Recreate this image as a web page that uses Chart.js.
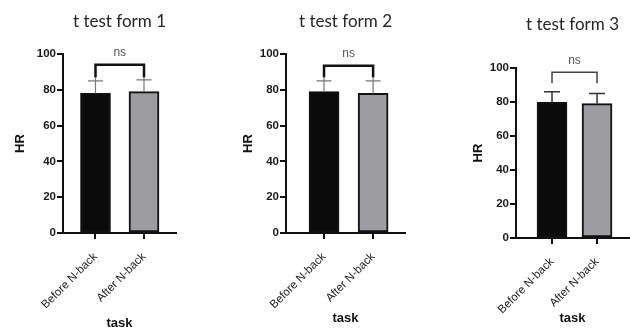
<!DOCTYPE html>
<html><head><meta charset="utf-8">
<script src="https://cdn.jsdelivr.net/npm/chart.js@4.4.0/dist/chart.umd.min.js"></script>
<style>
html,body{margin:0;padding:0;background:#fff;width:630px;height:333px;overflow:hidden;position:relative}
canvas{position:absolute;top:0}
</style></head><body>
<canvas id="c1" width="210" height="333" style="left:0px"></canvas>
<canvas id="c2" width="200" height="333" style="left:228px"></canvas>
<canvas id="c3" width="172" height="333" style="left:458px"></canvas>
<script>
// ---- data ----
const categories = ['Before N-back', 'After N-back'];
const titles = ['t test form 1', 't test form 2', 't test form 3'];
const form1Mean = [78, 79];
const form1SD = [7, 6.5];
const form2Mean = [79, 78];
const form2SD = [6, 7];
const form3Mean = [80, 79];
const form3SD = [6, 6];
const yTicks = [0, 20, 40, 60, 80, 100];
const sigLabel = 'ns';
const bracketLevel = [94, 93.5, 97.5];
const bracketLegEnd = [87, 87, 91];
const yTitle = 'HR';
const xTitle = 'task';

const SANS = '"Liberation Sans", Arial, Helvetica, sans-serif';

const annot = {
  id: 'annot',
  afterDatasetsDraw(chart, args, o) {
    const {ctx, scales: {y}} = chart;
    const meta = chart.getDatasetMeta(0);
    ctx.save();
    ctx.strokeStyle = o.errColor; ctx.lineWidth = o.errWidth;
    meta.data.forEach((bar, i) => {
      const top = y.getPixelForValue(o.mean[i] + o.sd[i]);
      ctx.beginPath();
      ctx.moveTo(bar.x, bar.y); ctx.lineTo(bar.x, top - o.errExt);
      ctx.moveTo(bar.x - o.cap, top); ctx.lineTo(bar.x + o.cap, top);
      ctx.stroke();
    });
    const x0 = meta.data[0].x, x1 = meta.data[1].x;
    const yb = y.getPixelForValue(o.level), yl = y.getPixelForValue(o.legEnd);
    ctx.strokeStyle = o.brColor; ctx.lineWidth = o.brWidth;
    ctx.lineJoin = 'miter';
    ctx.beginPath();
    ctx.moveTo(x0, yl); ctx.lineTo(x0, yb); ctx.lineTo(x1, yb); ctx.lineTo(x1, yl);
    ctx.stroke();
    ctx.fillStyle = '#555';
    ctx.font = '12px ' + SANS;
    ctx.textAlign = 'center'; ctx.textBaseline = 'alphabetic';
    ctx.fillText(sigLabel, (x0 + x1) / 2, yb - o.nsGap);
    ctx.restore();
  }
};

function makeChart(id, mean, sd, idx, L) {
  return new Chart(document.getElementById(id), {
    type: 'bar',
    data: {
      datasets: [{
        data: categories.map((c, i) => ({x: i, y: mean[i]})),
        backgroundColor: ['#0b0b0b', '#9d9da1'],
        borderColor: '#111',
        borderWidth: 2,
        borderSkipped: false,
        barThickness: 30
      }]
    },
    options: {
      responsive: false,
      animation: false,
      layout: {padding: {left: 0, right: L.padRight, top: 0, bottom: 0}},
      plugins: {
        legend: {display: false},
        tooltip: {enabled: false},
        title: {
          display: true, text: titles[idx], fullSize: false,
          color: '#262626',
          font: {family: 'Lato, "Open Sans", sans-serif', size: 17, weight: 'normal'},
          padding: L.titlePad
        },
        annot: {
          mean: mean, sd: sd, level: bracketLevel[idx], legEnd: bracketLegEnd[idx],
          errColor: L.errColor, errWidth: L.errWidth, errExt: L.errExt, cap: L.cap,
          brColor: L.brColor, brWidth: L.brWidth, nsGap: L.nsGap
        }
      },
      scales: {
        x: {
          type: 'linear', offset: false,
          min: L.xMin, max: L.xMax,
          afterBuildTicks: s => { s.ticks = categories.map((c, i) => ({value: i})); },
          afterFit: s => { s.height = L.xHeight; },
          grid: {offset: false, drawOnChartArea: false, drawTicks: true, tickLength: 6, color: '#111', lineWidth: 2},
          border: {display: true, color: '#111', width: 2},
          ticks: {
            autoSkip: false, minRotation: 45, maxRotation: 45, padding: 11,
            color: '#222', font: {family: SANS, size: 11.5},
            callback: v => categories[v]
          },
          title: {display: true, text: xTitle, color: '#111',
            font: {family: SANS, size: 13, weight: 'bold'},
            padding: {top: 0, bottom: L.xTitlePad}}
        },
        y: {
          min: 0, max: 100,
          afterBuildTicks: s => { s.ticks = yTicks.map(v => ({value: v})); },
          afterFit: s => { s.width = L.yWidth; },
          grid: {drawOnChartArea: false, drawTicks: true, tickLength: 6, color: '#111', lineWidth: 2},
          border: {display: true, color: '#111', width: 2},
          ticks: {padding: 1, color: '#1a1a1a', font: {family: SANS, size: 11.5, weight: 'bold'}},
          title: {display: true, text: yTitle, color: '#111',
            font: {family: SANS, size: 13, weight: 'bold'},
            padding: {top: 12.2, bottom: 0}}
        }
      }
    },
    plugins: [annot]
  });
}

makeChart('c1', form1Mean, form1SD, 0, {
  yWidth: 63, xHeight: 100, padRight: 34, titlePad: {top: 11.3, bottom: 22.3}, xTitlePad: 2,
  xMin: -0.67, xMax: 1.66, errColor: '#777', errWidth: 1.2, errExt: 5, cap: 7.5,
  brColor: '#111', brWidth: 2.5, nsGap: 9
});
makeChart('c2', form2Mean, form2SD, 1, {
  yWidth: 58, xHeight: 100, padRight: 23, titlePad: {top: 11.3, bottom: 22.3}, xTitlePad: 6.7,
  xMin: -0.775, xMax: 1.65, errColor: '#777', errWidth: 1.2, errExt: 5, cap: 7.5,
  brColor: '#111', brWidth: 2.5, nsGap: 9
});
makeChart('c3', form3Mean, form3SD, 2, {
  yWidth: 58, xHeight: 95, padRight: 1, titlePad: {top: 14.3, bottom: 33.3}, xTitlePad: 7,
  xMin: -0.80, xMax: 1.71, errColor: '#333', errWidth: 1.5, errExt: 0, cap: 8,
  brColor: '#444', brWidth: 1.5, nsGap: 8
});
</script>
</body></html>
